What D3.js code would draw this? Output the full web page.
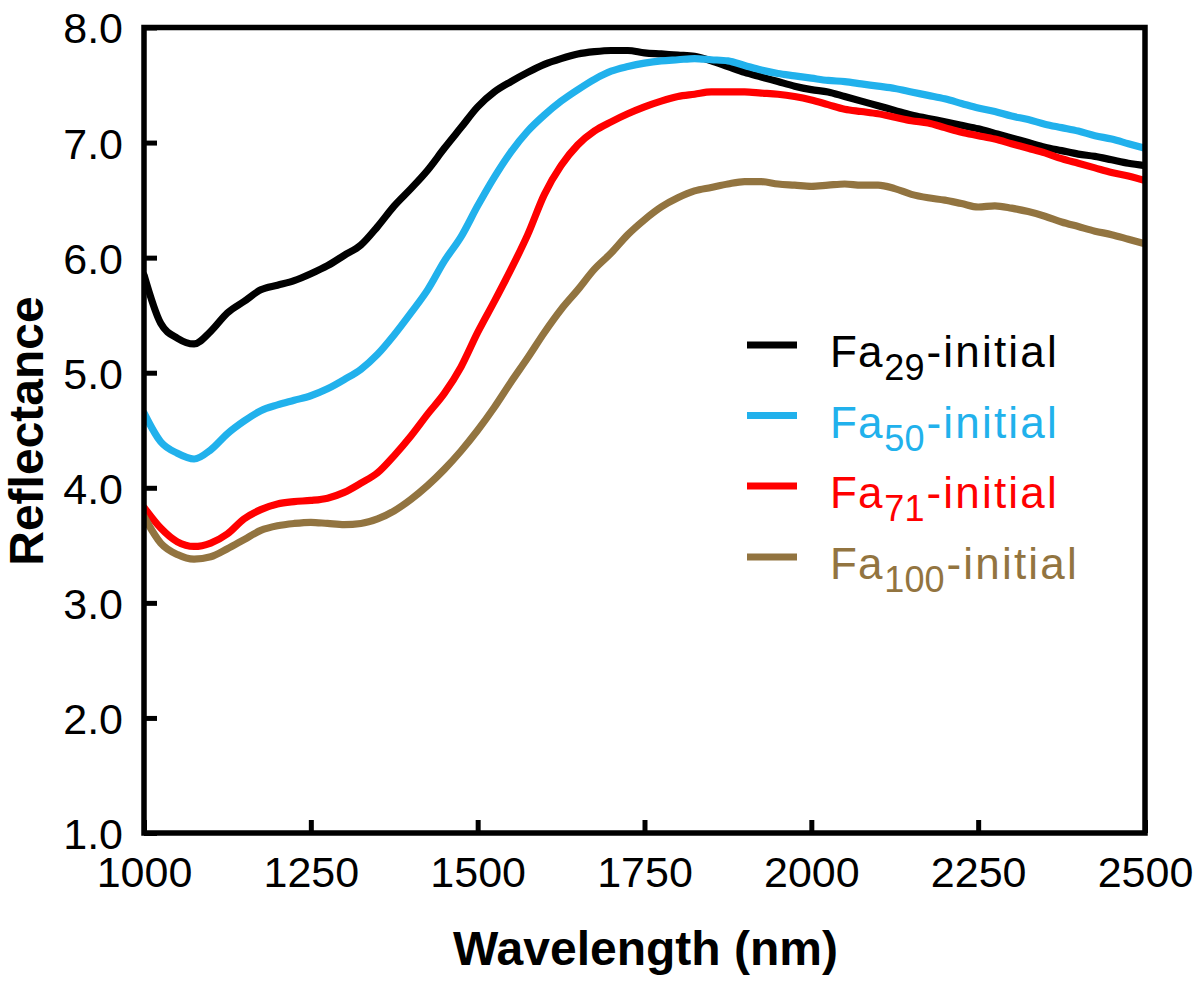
<!DOCTYPE html>
<html>
<head>
<meta charset="utf-8">
<script src="https://cdn.jsdelivr.net/npm/d3@7/dist/d3.min.js"></script>
<style>
  html, body { margin: 0; padding: 0; background: #fff; }
  svg { display: block; font-family: "Liberation Sans", Arial, sans-serif; }
</style>
</head>
<body>
<svg id="chart" width="1200" height="982"></svg>
<script>
// ---- Data ----
const wavelengths = d3.range(1000, 2501, 25);

const fa29 = [5.85,5.43,5.30,5.25,5.36,5.52,5.62,5.72,5.76,5.80,5.86,5.93,6.02,6.11,6.27,6.45,6.60,6.76,6.95,7.13,7.31,7.44,7.53,7.61,7.68,7.73,7.77,7.79,7.80,7.80,7.78,7.77,7.76,7.75,7.71,7.66,7.61,7.57,7.53,7.49,7.46,7.44,7.40,7.36,7.32,7.28,7.24,7.21,7.18,7.15,7.12,7.08,7.04,7.00,6.96,6.93,6.90,6.88,6.85,6.82,6.80];

const fa50 = [4.65,4.40,4.30,4.25,4.33,4.47,4.58,4.67,4.72,4.76,4.80,4.86,4.94,5.03,5.16,5.33,5.52,5.72,5.97,6.18,6.45,6.70,6.92,7.10,7.24,7.36,7.46,7.55,7.62,7.66,7.69,7.71,7.72,7.73,7.72,7.71,7.67,7.63,7.60,7.58,7.56,7.54,7.53,7.51,7.49,7.47,7.44,7.41,7.38,7.34,7.30,7.27,7.23,7.20,7.16,7.13,7.10,7.06,7.03,6.99,6.95];

const fa71 = [3.83,3.65,3.53,3.49,3.52,3.60,3.73,3.81,3.86,3.88,3.89,3.91,3.96,4.04,4.13,4.28,4.45,4.64,4.82,5.05,5.35,5.62,5.90,6.20,6.55,6.80,6.98,7.10,7.18,7.25,7.31,7.36,7.40,7.42,7.44,7.44,7.44,7.43,7.42,7.40,7.37,7.33,7.29,7.27,7.25,7.22,7.19,7.17,7.13,7.09,7.06,7.03,6.99,6.95,6.91,6.86,6.82,6.78,6.74,6.71,6.67];

const fa100 = [3.75,3.52,3.42,3.38,3.40,3.47,3.55,3.63,3.67,3.69,3.70,3.69,3.68,3.69,3.73,3.80,3.90,4.02,4.16,4.32,4.50,4.70,4.92,5.13,5.35,5.55,5.72,5.90,6.04,6.20,6.33,6.44,6.52,6.58,6.61,6.64,6.66,6.66,6.64,6.63,6.62,6.63,6.64,6.63,6.63,6.60,6.55,6.52,6.50,6.47,6.44,6.45,6.43,6.40,6.36,6.31,6.27,6.23,6.20,6.16,6.12];

const seriesNames = ["29", "50", "71", "100"];
const seriesColors = ["#000000", "#21b1ec", "#ff0000", "#927440"];
const seriesValues = [fa29, fa50, fa71, fa100];

const xTicks = [1000, 1250, 1500, 1750, 2000, 2250, 2500];
const yTicks = [1, 2, 3, 4, 5, 6, 7, 8];

// ---- Layout ----
const svg = d3.select("#chart");
const plotL = 144, plotR = 1145, plotT = 27.5, plotB = 833;

const x = d3.scaleLinear().domain([1000, 2500]).range([plotL, plotR]);
const y = d3.scaleLinear().domain([1, 8]).range([plotB, plotT]);

svg.append("defs").append("clipPath").attr("id", "clip")
  .append("rect").attr("x", plotL).attr("y", plotT)
  .attr("width", plotR - plotL).attr("height", plotB - plotT);

// ---- Lines ----
const line = d3.line()
  .x((d, i) => x(wavelengths[i]))
  .y(d => y(d))
  .curve(d3.curveMonotoneX);

const gLines = svg.append("g").attr("clip-path", "url(#clip)");
seriesValues.forEach((vals, k) => {
  gLines.append("path")
    .datum(vals)
    .attr("d", line)
    .attr("fill", "none")
    .attr("stroke", seriesColors[k])
    .attr("stroke-width", 7.2)
    .attr("stroke-linejoin", "round")
    .attr("stroke-linecap", "round");
});

// ---- Axes ----
const xAxis = d3.axisBottom(x).tickValues(xTicks).tickSize(-13).tickPadding(23)
  .tickFormat(d3.format("d"));
const yAxis = d3.axisLeft(y).tickValues(yTicks).tickSize(-13).tickPadding(21)
  .tickFormat(d3.format(".1f"));

const gx = svg.append("g").attr("transform", `translate(0,${plotB})`).call(xAxis);
const gy = svg.append("g").attr("transform", `translate(${plotL},0)`).call(yAxis);

[gx, gy].forEach(g => {
  g.select(".domain").remove();
  g.selectAll(".tick line").attr("stroke", "#000").attr("stroke-width", 5);
  g.selectAll(".tick text").attr("fill", "#000")
    .style("font-size", "43px")
    .style("font-family", "'Liberation Sans', Arial, sans-serif");
});
gx.selectAll(".tick text").attr("dy", "0.71em");
gy.selectAll(".tick text").attr("dy", "0.36em");

// frame
svg.append("rect")
  .attr("x", plotL).attr("y", plotT)
  .attr("width", plotR - plotL).attr("height", plotB - plotT)
  .attr("fill", "none").attr("stroke", "#000").attr("stroke-width", 5.5);

// axis titles
svg.append("text")
  .attr("x", (plotL + plotR) / 2 + 1).attr("y", 965)
  .attr("text-anchor", "middle")
  .style("font-size", "48px").style("font-weight", "bold")
  .text("Wavelength (nm)");

svg.append("text")
  .attr("transform", "translate(43,431) rotate(-90)")
  .attr("text-anchor", "middle")
  .style("font-size", "48px").style("font-weight", "bold")
  .text("Reflectance");

// ---- Legend ----
const legendY = [345, 415.5, 486, 557];
const legend = svg.append("g");
seriesNames.forEach((name, k) => {
  const ly = legendY[k];
  legend.append("line")
    .attr("x1", 747).attr("x2", 797)
    .attr("y1", ly).attr("y2", ly)
    .attr("stroke", seriesColors[k]).attr("stroke-width", 7);
  const t = legend.append("text")
    .attr("x", 830).attr("y", ly + 22)
    .attr("fill", seriesColors[k])
    .style("font-size", "44px");
  t.append("tspan").style("letter-spacing", "1px").text("Fa");
  t.append("tspan").attr("dy", 13).attr("dx", 1).style("font-size", "36px").text(name);
  t.append("tspan").attr("dy", -13).attr("dx", 2).style("letter-spacing", "2.2px").text("-initial");
});
</script>
</body>
</html>
